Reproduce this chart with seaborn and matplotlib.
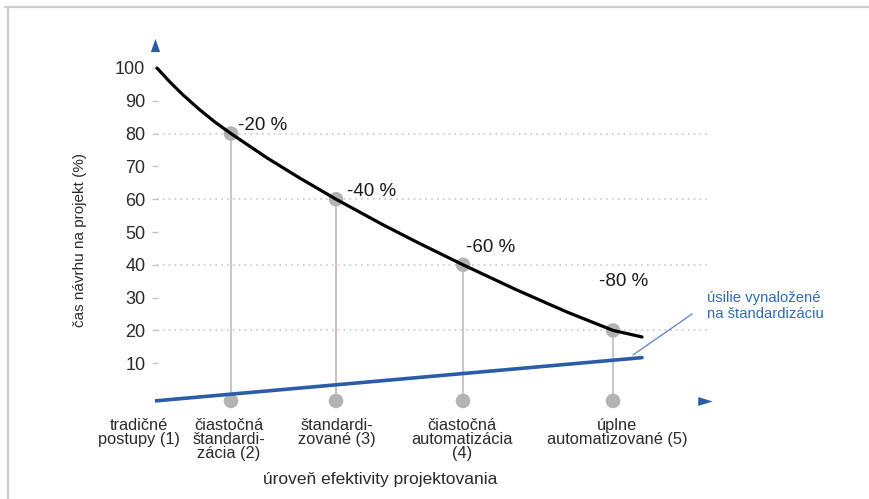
import matplotlib
matplotlib.use("Agg")
import matplotlib.pyplot as plt
from matplotlib import font_manager
from matplotlib.lines import Line2D
import seaborn as sns
import pandas as pd

# --- data -------------------------------------------------------------
stage_labels = [
    "tradičné\npostupy (1)",
    "čiastočná\nštandardi-\nzácia (2)",
    "štandardi-\nzované (3)",
    "čiastočná\nautomatizácia\n(4)",
    "úplne\nautomatizované (5)",
]
stage_pos = [0.0, 0.76, 1.81, 3.08, 4.58]          # position of each stage on the efficiency axis
stage_time = [100, 80, 60, 40, 20]                 # design time per project (%)
stage_change = ["", "-20 %", "-40 %", "-60 %", "-80 %"]

# design-time curve
curve_x = [0.02, 0.15, 0.28, 0.45, 0.60, 0.76, 1.12, 1.45, 1.81, 2.28, 2.62, 3.08, 3.62, 4.12, 4.58, 4.87]
curve_y = [100, 95.7, 91.8, 87.2, 83.5, 80, 72.6, 66.4, 60, 52.2, 46.9, 40, 32.3, 25.6, 20, 18]

# effort spent on standardisation
effort_x = [0.0, 4.87]
effort_y = [-1.5, 11.7]

base_level = -1.5
y_ticks = [10, 20, 30, 40, 50, 60, 70, 80, 90, 100]
grid_levels = [20, 40, 60, 80]

# --- style ------------------------------------------------------------
sns.set_theme(style="white")
plt.rcParams["font.family"] = ["Liberation Sans", "DejaVu Sans"]

available = {f.name for f in font_manager.fontManager.ttflist}
narrow = "Liberation Sans Narrow" if "Liberation Sans Narrow" in available else "Liberation Sans"

BLUE = "#2a5ca8"
DOT = "#b3b3b3"
TEXT = "#2b2b2b"

fig = plt.figure(figsize=(8.69, 4.99), dpi=100, facecolor="white")
ax = fig.add_axes([0.17837, 0.18669, 0.64442, 0.74277])
ax.set_xlim(0, 5.6)
ax.set_ylim(-3, 110)
for s in ax.spines.values():
    s.set_visible(False)

# outer frame (top and left edge)
fig.add_artist(Line2D([5 / 869, 1], [1 - 7 / 499, 1 - 7 / 499], color="#cdcdcd", lw=1.6, transform=fig.transFigure))
fig.add_artist(Line2D([8 / 869, 8 / 869], [0, 1 - 7 / 499], color="#cdcdcd", lw=1.6, transform=fig.transFigure))

# dotted reference lines
ax.hlines(grid_levels, 0.02, 5.55, colors="#d3c6c6", linestyles=(0, (1, 2.5)), lw=1.2, zorder=1)

# drop lines from each stage to the curve
drop_colors = ["#bdbdbd", "#c7b0b0", "#bdbdbd", "#bdbdbd"]
for xp, yv, c in zip(stage_pos[1:], stage_time[1:], drop_colors):
    ax.plot([xp, xp], [base_level, yv], color=c, lw=1.2, zorder=2)

pts = pd.DataFrame({
    "x": stage_pos[1:] * 2,
    "y": stage_time[1:] + [base_level] * 4,
})
sns.scatterplot(data=pts, x="x", y="y", s=110, color=DOT, edgecolor="none", zorder=3, ax=ax, clip_on=False)

# effort line
sns.lineplot(x=effort_x, y=effort_y, color=BLUE, lw=2.6, ax=ax, zorder=4, sort=False)
ax.plot([4.78, 5.37], [12.5, 25.0], color="#6a8cc2", lw=1.0, zorder=4)
ax.text(5.52, 27.5, "úsilie vynaložené\nna štandardizáciu", color="#2e6db4", fontsize=10.7,
        ha="left", va="center", linespacing=1.15)

# design-time curve
sns.lineplot(x=curve_x, y=curve_y, color="black", lw=2.3, ax=ax, zorder=5, sort=False)

# percentage labels
offsets = [None, (7, 8), (11, 7.5), (3, 17), (-14, 48.5)]
for xp, yv, lab, off in zip(stage_pos, stage_time, stage_change, offsets):
    if not lab:
        continue
    ax.annotate(lab, (xp, yv), xytext=off, textcoords="offset pixels",
                ha="left", va="center", fontsize=13.5, color="#1a1a1a", zorder=6)

# axis arrows
up = [(-0.35, -0.5), (0.35, -0.5), (0.0, 0.5)]
right = [(-0.5, -0.3), (-0.5, 0.3), (0.5, 0.0)]
ax.plot([0.0], [107.0], marker=up, markersize=9.5, color=BLUE, mec="none", clip_on=False, ls="none")
ax.plot([5.5], [base_level], marker=right, markersize=10.5, color=BLUE, mec="none", clip_on=False, ls="none")

# y axis ticks
ax.set_yticks(y_ticks)
ax.set_yticklabels([str(t) for t in y_ticks])
ax.tick_params(axis="y", left=True, direction="inout", length=5, width=1, color="#c4c4c4", pad=4.5,
               labelsize=13, labelcolor=TEXT)
ax.set_xticks([])
ax.set_ylabel("")
ax.set_xlabel("")
fig.text(80 / 869, 1 - 240 / 499, "čas návrhu na projekt (%)", rotation=90, ha="center", va="center",
         fontsize=11, color=TEXT)

# stage labels under the axis
label_x = [-0.16, 0.74, 1.82, 3.07, 4.62]
for lx, lab in zip(label_x, stage_labels):
    ax.text(lx, -6.6, lab, ha="center", va="top", multialignment="center", fontsize=11.8,
            family=[narrow, "DejaVu Sans"], color=TEXT, linespacing=0.92, clip_on=False)

ax.text(2.25, -25.6, "úroveň efektivity projektovania", ha="center", va="center", fontsize=12.5,
        family=[narrow, "DejaVu Sans"], color=TEXT, clip_on=False)

fig.savefig("out.png", dpi=100, facecolor="white")
